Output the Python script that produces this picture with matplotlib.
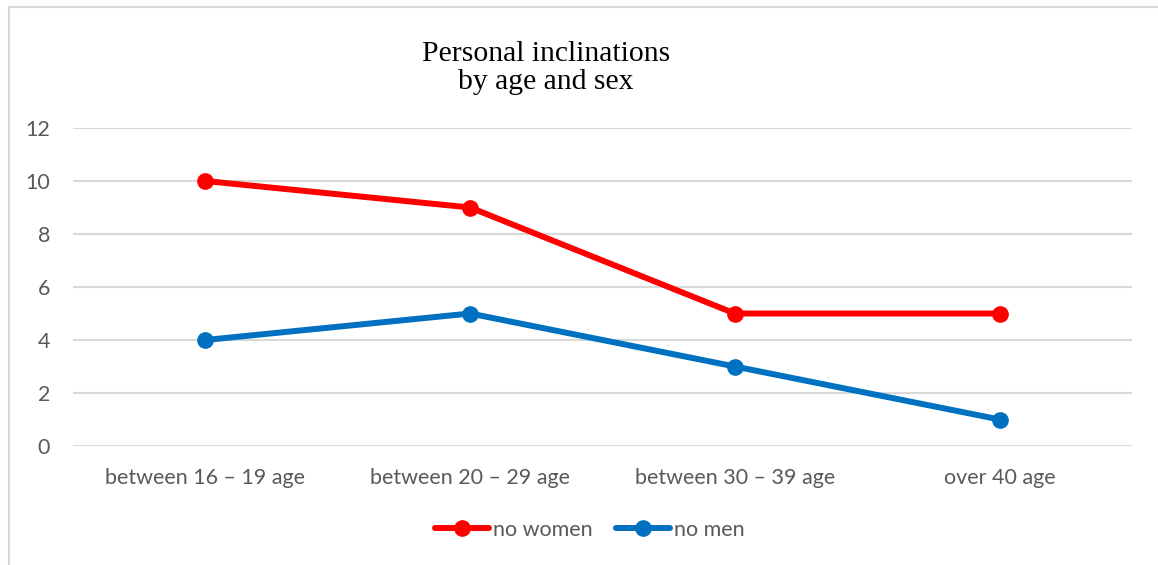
import matplotlib
matplotlib.use("Agg")
import matplotlib.pyplot as plt
from matplotlib.patches import Rectangle

categories = ["between 16 \u2013 19 age", "between 20 \u2013 29 age",
              "between 30 \u2013 39 age", "over 40 age"]
women = [10, 9, 5, 5]
men = [4, 5, 3, 1]
y_ticks = [0, 2, 4, 6, 8, 10, 12]

W, H = 1158, 565
fig = plt.figure(figsize=(W / 100, H / 100), dpi=100)

# chart frame (extends past right and bottom edges)
fig.patches.append(Rectangle((9 / W, -0.1), 1.2, 1 - 7 / H + 0.1,
                             transform=fig.transFigure, fill=False,
                             edgecolor="#D9D9D9", linewidth=1.5))

ax = fig.add_axes([73 / W, 1 - 446 / H, (1132 - 73) / W, (446 - 128) / H])
x = list(range(len(categories)))
ax.plot(x, women, color="#FF0000", lw=4.3, marker="o", ms=11,
        label="no women", solid_capstyle="round")
ax.plot(x, men, color="#0070C0", lw=4.3, marker="o", ms=11,
        label="no men", solid_capstyle="round")

ax.set_xlim(-0.5, len(categories) - 0.5)
ax.set_ylim(0, 12)
ax.set_yticks(y_ticks)
ax.set_xticks(x)
ax.set_xticklabels(categories)
for s in ax.spines.values():
    s.set_visible(False)
ax.grid(axis="y", color="#D9D9D9", lw=1.5)
ax.set_axisbelow(True)
ax.tick_params(length=0, labelsize=15.5, labelcolor="#595959")
ax.tick_params(axis="y", pad=16.5)
ax.tick_params(axis="x", pad=16)
for lab in ax.get_xticklabels() + ax.get_yticklabels():
    lab.set_fontfamily("Lato")

fig.text(546 / W, 1 - 68 / H, "Personal inclinations\nby age and sex",
         ha="center", va="center", fontsize=21.3, family="Liberation Serif",
         linespacing=1.12)

leg = fig.legend(loc="center", bbox_to_anchor=(590 / W, 1 - 530 / H),
                 ncol=2, frameon=False, handlelength=2.5, handletextpad=0.2,
                 columnspacing=1.1, prop={"family": "Lato", "size": 15.5})
for t in leg.get_texts():
    t.set_color("#595959")

fig.savefig("out.png", dpi=100)
